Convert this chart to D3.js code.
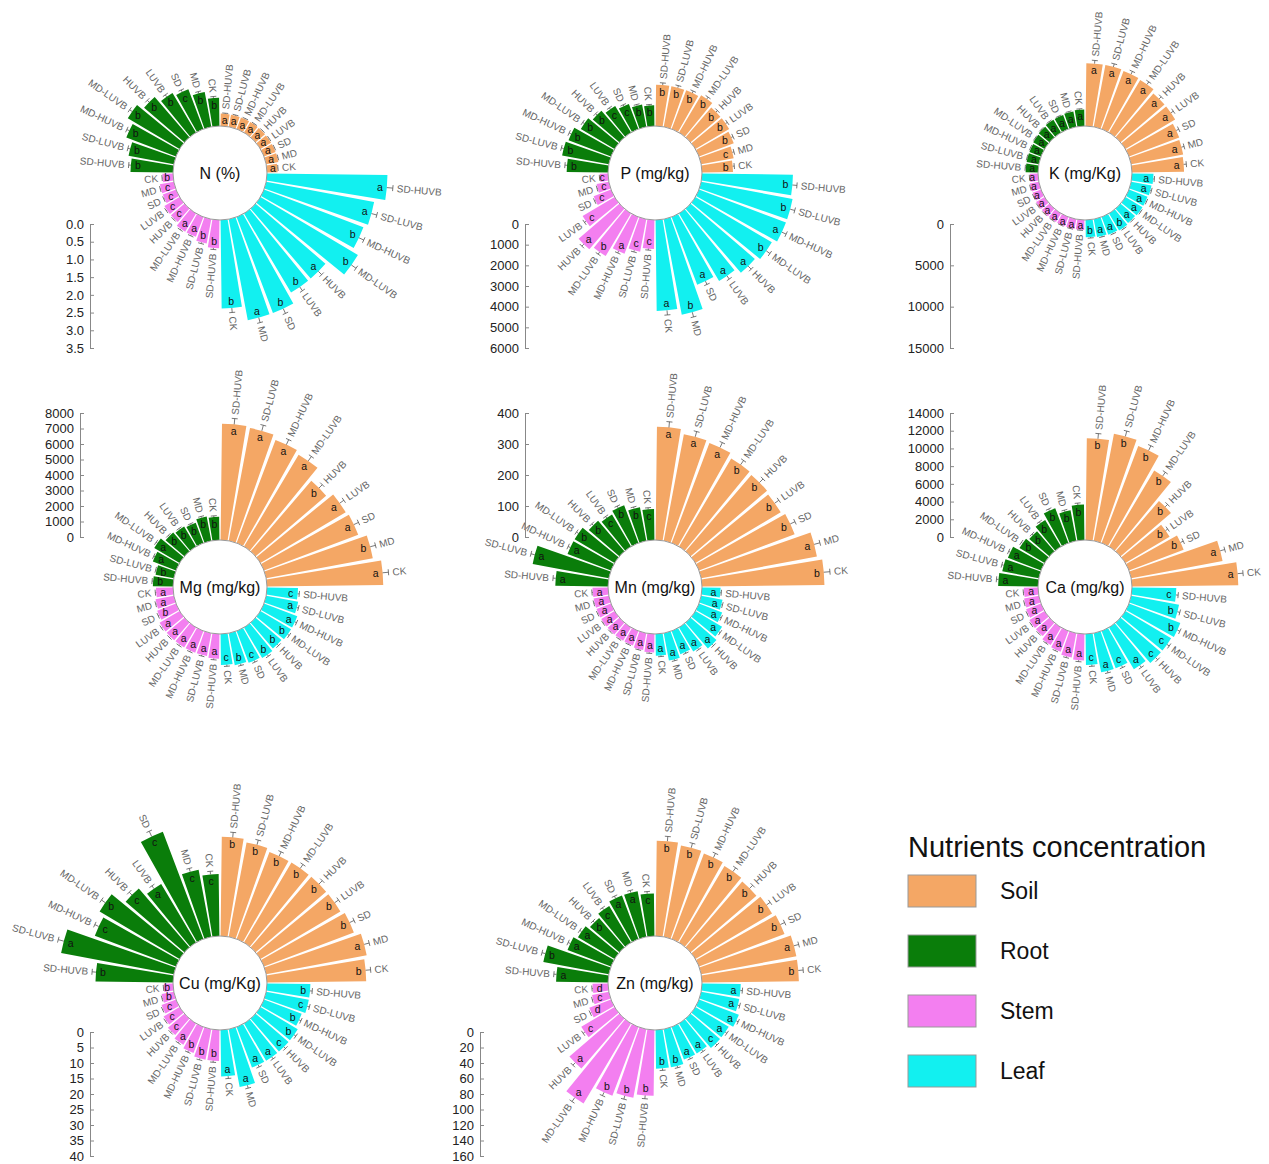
<!DOCTYPE html>
<html><head><meta charset="utf-8">
<script src="https://cdn.jsdelivr.net/npm/d3@7"></script>
<style>body{margin:0;background:#fff;font-family:Arial,"Liberation Sans",sans-serif}</style>
</head><body><svg id="c" width="1269" height="1164"></svg>
<script>
let treatments = ['SD-HUVB','SD-LUVB','MD-HUVB','MD-LUVB','HUVB','LUVB','SD','MD','CK'];
let parts = ['Soil','Leaf','Stem','Root'];   // clockwise from top
let partColors = {'Soil':'#f4a765','Root':'#0a7d0a','Stem':'#f37ff0','Leaf':'#12f0f0'};

let titles = ['N (%)','P (mg/kg)','K (mg/Kg)','Mg (mg/kg)','Mn (mg/kg)','Ca (mg/kg)','Cu (mg/Kg)','Zn (mg/kg)'];
let maxima = [3.5, 6000, 15000, 8000, 400, 14000, 40, 160];
let tickSteps = [0.5, 1000, 5000, 1000, 100, 2000, 5, 20];

// values per part, order = treatments
let soil = [
  [0.35,0.35,0.35,0.35,0.35,0.35,0.35,0.35,0.3],
  [2000,2000,2000,2100,1900,1900,1800,1600,1500],
  [7600,7600,7500,7400,7000,7000,6500,6400,6300],
  [7500,7400,7100,6900,6000,6400,6500,7000,7500],
  [365,350,345,330,325,320,330,380,395],
  [11500,12300,11700,10000,7500,5800,6600,10500,12000],
  [32,31,30,30,30,30,31,33,32],
  [123,120,118,115,112,115,118,125,125]
];
let leaf = [
  [3.4,3.1,3.0,3.2,2.6,2.6,2.9,2.9,2.5],
  [4400,4500,4500,4300,4100,3800,3500,4700,4400],
  [2600,2500,2400,2400,2300,2400,2300,2200,2100],
  [2000,2100,2300,2300,2200,2300,2200,2100,2000],
  [60,70,80,100,110,90,80,90,70],
  [5000,5500,6200,6000,6000,5500,4500,4500,3500],
  [14,14,13,14,14,14,14,19,15],
  [50,50,55,50,50,45,45,50,50]
];
let stem = [
  [0.8,0.7,0.6,0.6,0.5,0.5,0.4,0.4,0.3],
  [1400,1600,1900,2400,2600,1800,900,600,400],
  [1200,1200,1200,1200,1200,1200,1100,1100,1000],
  [1600,1500,1500,1500,1500,1500,1300,1200,1100],
  [60,55,50,50,50,50,50,50,50],
  [3000,2800,2500,2300,2000,2000,1800,1700,1600],
  [10,10,9,8,7,6,5,4,3],
  [85,90,95,120,85,50,30,22,20]
];
let root = [
  [1.2,1.3,1.5,1.7,1.5,1.3,1.2,1.0,0.8],
  [2000,2300,2200,1900,1700,1500,1300,1100,1000],
  [1500,1500,1500,1600,1700,1800,1800,1900,2000],
  [1300,1200,1600,1900,1600,1500,1400,1600,1500],
  [170,250,150,150,130,120,130,110,100],
  [4500,4200,4000,3300,3000,3500,4200,3500,4000],
  [25,37,28,30,25,22,37,22,20],
  [67,86,60,55,50,55,60,60,55]
];
// significance letters per part
let soilLet = ['aaaaaaaaa','bbbbbbbcb','aaaaaaaaa','aaaabaaba','aaabbbbab','bbbbbbbaa','bbbbbbbab','bbbbbbbab'];
let leafLet = ['aabbabbab','bbabaaaba','aaaaabaab','caabbbcbc','aaaaaaaaa','cbbccacac','bcbbcaaaa','aaaacaabb'];
let stemLet = ['bbaaccccb','ccabaccccd'.slice(0,9),'aaaaaaaaa','aaaaaabaa','aaaaaaaaa','aaaaaaaaa','bbbacccbb','bbbaacdcd'];
let rootLet = ['bbbbbbcbb','bbbbbccbb','aaaaaaaaa','bbaabbbbb','aaabbcbbc','aaabbbbbb','bacbcaccc','abaabcaac'];

let centers = [[220,173],[655,173],[1085,173],[220,587],[655,587],[1085,587],[220,983],[655,983]];
let axisPos = [[90,224,'down'],[525,224,'down'],[950,224,'down'],[80,537,'up'],[525,537,'up'],[950,537,'up'],[90,1032,'down'],[480,1032,'down']];

let svg = d3.select('#c');
let inner = 47, span = 124;
let rad = Math.PI/180;

function drawChart(k){
  let [cx,cy] = centers[k];
  let r = d3.scaleLinear().domain([0,maxima[k]]).range([inner, inner+span]);
  let g = svg.append('g').attr('transform',`translate(${cx},${cy})`);
  let sets = {'Soil':[soil[k],soilLet[k]],'Leaf':[leaf[k],leafLet[k]],'Stem':[stem[k],stemLet[k]],'Root':[root[k],rootLet[k]]};
  let bars = [];
  parts.forEach((p,pi)=>{
    treatments.forEach((t,i)=>{
      let v = sets[p][0][i];
      bars.push({part:p, name:t, v:v, l:sets[p][1][i]||'a', a0:(pi*90+i*10+0.7)*rad, a1:(pi*90+i*10+9.3)*rad});
    });
  });
  let arc = d3.arc();
  g.selectAll('path.bar').data(bars).join('path').attr('class','bar')
    .attr('d', d => arc({innerRadius:inner, outerRadius:r(d.v), startAngle:d.a0, endAngle:d.a1}))
    .attr('fill', d => partColors[d.part]);
  // error bars, labels, letters
  bars.forEach(d=>{
    let am = (d.a0+d.a1)/2, e = d.v*0.05, r1 = r(d.v), r2 = r(d.v+e);
    let px = (rr,a)=>[rr*Math.sin(a), -rr*Math.cos(a)];
    let p1 = px(r1,am), p2 = px(r2,am);
    g.append('line').attr('x1',p1[0]).attr('y1',p1[1]).attr('x2',p2[0]).attr('y2',p2[1]).attr('stroke','#555').attr('stroke-width',0.8);
    let dx = 3*Math.cos(am), dy = 3*Math.sin(am);
    g.append('line').attr('x1',p2[0]-dx).attr('y1',p2[1]-dy).attr('x2',p2[0]+dx).attr('y2',p2[1]+dy).attr('stroke','#555').attr('stroke-width',0.8);
    let deg = am/rad;
    let right = deg < 180;
    let lr = r(d.v*1.05)+4;
    g.append('text').attr('transform',`rotate(${deg-90}) translate(${lr},0)` + (right?'':' rotate(180)'))
      .attr('text-anchor', right?'start':'end').attr('dy','0.35em')
      .attr('font-size',10).attr('fill','#666').text(d.name);
    let tr = Math.max(r(d.v)-7, inner+6);
    let lp = px(tr, am);
    g.append('text').attr('x',lp[0]).attr('y',lp[1]).attr('dy','0.35em').attr('text-anchor','middle')
      .attr('font-size',10.5).attr('fill','#111').text(d.l);
  });
  g.append('circle').attr('r',inner).attr('fill','#fff').attr('stroke','#999').attr('stroke-width',1);
  g.append('text').attr('text-anchor','middle').attr('dy','0.35em').attr('font-size',16).attr('fill','#111').text(titles[k]);
  // scale axis
  let [ax,ay,dir] = axisPos[k];
  let ys = d3.scaleLinear().domain([0,maxima[k]]).range(dir==='down'?[ay,ay+span]:[ay,ay-span]);
  let ticks = d3.range(0, maxima[k]+tickSteps[k]/2, tickSteps[k]);
  let fmt = tickSteps[k] < 1 ? d3.format('.1f') : d3.format('d');
  let a = svg.append('g').attr('transform',`translate(${ax},0)`)
    .call(d3.axisRight(ys).tickValues(ticks).tickFormat(fmt).tickSize(4));
  a.select('.domain').attr('stroke','#888');
  a.selectAll('line').attr('stroke','#888');
  a.selectAll('text').attr('x',-6).attr('text-anchor','end').attr('font-size',13).attr('fill','#222');
}
d3.range(8).forEach(drawChart);

// legend
let leg = svg.append('g');
leg.append('text').attr('x',908).attr('y',857).attr('font-size',29).attr('fill','#111').text('Nutrients concentration');
['Soil','Root','Stem','Leaf'].forEach((p,i)=>{
  let y = 875 + i*60;
  leg.append('rect').attr('x',908).attr('y',y).attr('width',68).attr('height',32).attr('fill',partColors[p]).attr('stroke','#999');
  leg.append('text').attr('x',1000).attr('y',y+24).attr('font-size',23).attr('fill','#111').text(p);
});
</script></body></html>
